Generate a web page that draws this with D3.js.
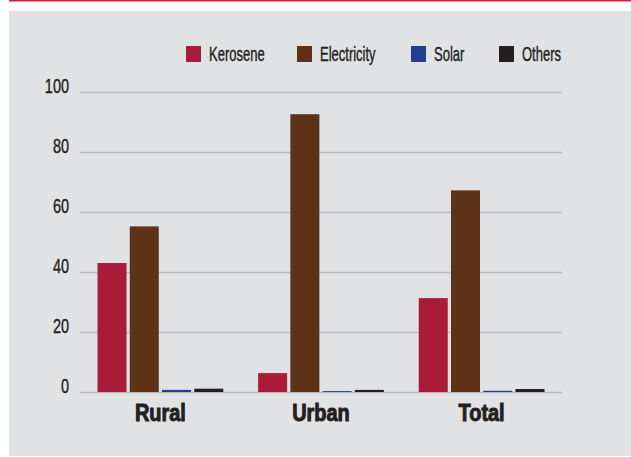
<!DOCTYPE html>
<html>
<head>
<meta charset="utf-8">
<script src="https://cdn.jsdelivr.net/npm/d3@7"></script>
<style>
    body { margin: 0; background: #ffffff; }
    svg { display: block; }
    .tick-label { font-family: "Liberation Sans", sans-serif; font-size: 21px; fill: #231f20; stroke: #231f20; stroke-width: 0.4px; }
    .legend-label { font-family: "Liberation Sans", sans-serif; font-size: 20px; fill: #231f20; stroke: #231f20; stroke-width: 0.4px; }
    .cat-label { font-family: "Liberation Sans", sans-serif; font-size: 24px; font-weight: bold; fill: #231f20; stroke: #231f20; stroke-width: 1px; }
</style>
</head>
<body>
<div id="chart"></div>
<script>
// Data
let categories = ["Rural", "Urban", "Total"];
let series = ["Kerosene", "Electricity", "Solar", "Others"];
let kerosene = [43.0, 6.3, 31.3];
let electricity = [55.2, 92.6, 67.2];
let solar = [0.7, 0.3, 0.4];
let others = [1.1, 0.7, 1.0];
let yTicks = [0, 20, 40, 60, 80, 100];
let colors = ["#a81c37", "#5e3217", "#233e8e", "#231f20"];

let seriesValues = [kerosene, electricity, solar, others];
let data = categories.map((c, i) => ({
    category: c,
    values: series.map((s, j) => ({ key: s, value: seriesValues[j][i] }))
}));

let width = 631, height = 457;

let svg = d3.select("#chart").append("svg")
    .attr("width", width)
    .attr("height", height);

// Red rule on top, grey panel
svg.append("rect")
    .attr("x", 9).attr("y", 0)
    .attr("width", width - 9).attr("height", 1.5)
    .attr("fill", "#c8203a");

svg.append("rect")
    .attr("x", 9).attr("y", 11)
    .attr("width", width - 9).attr("height", height - 12)
    .attr("fill", "#e1e2e4");

// Scales
let x0 = d3.scaleBand()
    .domain(categories)
    .range([80, 562])
    .paddingInner(0.217)
    .paddingOuter(0.109);

let x1 = d3.scaleBand()
    .domain(series)
    .range([0, x0.bandwidth()])
    .paddingInner(0.1);

let y = d3.scaleLinear()
    .domain([0, 100])
    .range([392, 92]);

let color = d3.scaleOrdinal()
    .domain(series)
    .range(colors);

// Grid lines and tick labels
let yAxis = d3.axisLeft(y)
    .tickValues(yTicks)
    .tickSize(-(562 - 80))
    .tickPadding(11)
    .tickFormat(d3.format("d"));

let yAxisG = svg.append("g")
    .attr("transform", "translate(80,0)")
    .call(yAxis);

yAxisG.select(".domain").remove();
yAxisG.selectAll(".tick line")
    .attr("stroke", "#bcbdc0")
    .attr("stroke-width", 1.5);
yAxisG.selectAll(".tick text")
    .attr("class", "tick-label")
    .attr("font-family", null)
    .attr("font-size", null)
    .attr("fill", null)
    .attr("dy", "0")
    .attr("transform", "translate(-11,0) scale(0.69,1) translate(11,0)");

// Bars
let groups = svg.selectAll(".group")
    .data(data)
    .enter()
    .append("g")
    .attr("class", "group")
    .attr("transform", d => "translate(" + x0(d.category) + ",0)");

groups.selectAll("rect")
    .data(d => d.values)
    .enter()
    .append("rect")
    .attr("x", d => x1(d.key))
    .attr("y", d => y(d.value))
    .attr("width", x1.bandwidth())
    .attr("height", d => y(0) - y(d.value))
    .attr("fill", d => color(d.key));

// Category labels
let xAxis = d3.axisBottom(x0)
    .tickSize(0)
    .tickPadding(0);

let xAxisG = svg.append("g")
    .attr("transform", "translate(0,392)")
    .call(xAxis);

xAxisG.select(".domain").remove();
xAxisG.selectAll(".tick text")
    .attr("class", "cat-label")
    .attr("font-family", null)
    .attr("font-size", null)
    .attr("fill", null)
    .attr("y", 0)
    .attr("dy", "29")
    .attr("transform", "scale(0.83,1)");

// Legend
let legendX = [186, 297, 411, 499];

let legend = svg.selectAll(".legend")
    .data(series)
    .enter()
    .append("g")
    .attr("class", "legend")
    .attr("transform", (d, i) => "translate(" + legendX[i] + ",46)");

legend.append("rect")
    .attr("width", 15)
    .attr("height", 16)
    .attr("fill", d => color(d));

legend.append("text")
    .attr("class", "legend-label")
    .attr("transform", "translate(23,0) scale(0.65,1)")
    .attr("y", 15)
    .text(d => d);
</script>
</body>
</html>
